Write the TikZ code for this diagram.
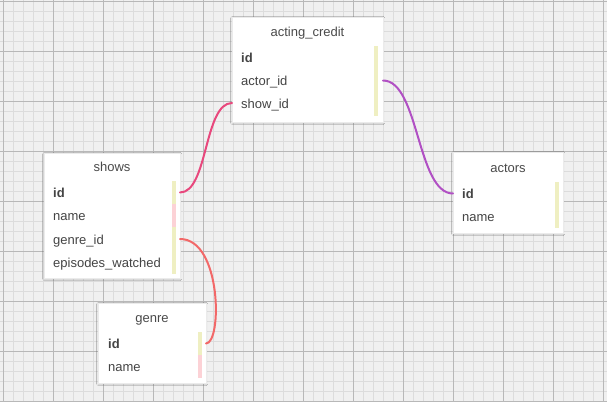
\documentclass[tikz,border=0pt]{standalone}
\usepackage{fontspec}
\setmainfont{Liberation Sans}
\usetikzlibrary{shadows.blur}
\definecolor{bg}{HTML}{F0F0F0}
\definecolor{minorgrid}{HTML}{DCDCDC}
\definecolor{majorgrid}{HTML}{B8B8B8}
\definecolor{txt}{HTML}{444444}
\definecolor{ttl}{HTML}{4A4A4A}
\definecolor{baryellow}{HTML}{EFEFC2}
\definecolor{barpink}{HTML}{FCD2D6}
\definecolor{linkpink}{HTML}{E8487D}
\definecolor{linkpurple}{HTML}{B150C4}
\definecolor{linkred}{HTML}{F26868}
\tikzset{
  tbl/.style={draw=black!8, line width=0.5pt, fill=white, anchor=north west, inner sep=0pt,
    blur shadow={shadow xshift=0pt, shadow yshift=-0.8pt, shadow blur radius=1.6pt, shadow blur steps=5, shadow opacity=14}},
  ttlnode/.style={text=ttl, font=\fontsize{13}{15}\selectfont, inner sep=0pt, text height=9.5pt, text depth=2.5pt},
  rownode/.style={text=txt, font=\fontsize{13}{15}\selectfont, anchor=west, inner sep=0pt, text height=9.5pt, text depth=2.5pt},
  keynode/.style={rownode, font=\fontsize{13}{15}\selectfont\bfseries},
  ybar/.style={fill=baryellow, draw=none},
  pbar/.style={fill=barpink, draw=none},
  link/.style={line width=2pt, line cap=round}
}
\begin{document}
\begin{tikzpicture}[x=1pt,y=-1pt]
\useasboundingbox (0,0) rectangle (607,402);
\fill[bg] (0,0) rectangle (607,402);
% grid
\foreach \i in {0,...,60} {
  \draw[minorgrid, line width=1pt] ({3+10*\i},0) -- ({3+10*\i},402);
}
\foreach \j in {0,...,40} {
  \draw[minorgrid, line width=1pt] (0,{1+10*\j}) -- (607,{1+10*\j});
}
\foreach \i in {0,...,12} {
  \draw[majorgrid, line width=1pt] ({3+50*\i},0) -- ({3+50*\i},402);
}
\foreach \j in {0,...,8} {
  \draw[majorgrid, line width=1pt] (0,{1+50*\j}) -- (607,{1+50*\j});
}

% acting_credit
\node[tbl, minimum width=151pt, minimum height=105pt] (ac) at (232,17) {};
\node[ttlnode] (acT) at (307.5,33) {acting\_credit};
\node[keynode] (acId) at (241,58.5) {id};
\node[rownode] (acActor) at (241,81.5) {actor\_id};
\node[rownode] (acShow) at (241,104.5) {show\_id};
\fill[ybar] (374,46) rectangle (378,116);
\coordinate (acActorR) at (383,80.5);
\coordinate (acShowL) at (232,103);

% shows
\node[tbl, minimum width=136pt, minimum height=125pt] (shows) at (44,153) {};
\node[ttlnode] (showsT) at (112,168) {shows};
\node[keynode] (showsId) at (53,193.5) {id};
\node[rownode] (showsName) at (53,217) {name};
\node[rownode] (showsGenre) at (53,240.5) {genre\_id};
\node[rownode] (showsEp) at (53,264) {episodes\_watched};
\fill[ybar] (172,181) rectangle (176,204);
\fill[pbar] (172,204) rectangle (176,227);
\fill[ybar] (172,227) rectangle (176,274);
\coordinate (showsIdR) at (180,192.5);
\coordinate (showsGenreR) at (180,239);

% actors
\node[tbl, minimum width=110pt, minimum height=81pt] (actors) at (453,152) {};
\node[ttlnode] (actorsT) at (508,169) {actors};
\node[keynode] (actorsId) at (462,194.5) {id};
\node[rownode] (actorsName) at (462,217.5) {name};
\fill[ybar] (555,182) rectangle (559,228);
\coordinate (actorsIdL) at (453,193.5);

% genre
\node[tbl, minimum width=108pt, minimum height=80pt] (genre) at (98,303) {};
\node[ttlnode] (genreT) at (152,319) {genre};
\node[keynode] (genreId) at (108,344.5) {id};
\node[rownode] (genreName) at (108,368) {name};
\fill[ybar] (198,332) rectangle (202,355);
\fill[pbar] (198,355) rectangle (202,378);
\coordinate (genreIdR) at (206,343.5);

% links
\draw[link, linkpink] (showsIdR) .. controls +(28,0) and +(-28,0) .. (acShowL);
\draw[link, linkpurple] (acActorR) .. controls +(36,0) and +(-36,0) .. (actorsIdL);
\draw[link, linkred] (showsGenreR) .. controls (222,239) and (222,343.5) .. (genreIdR);
\end{tikzpicture}
\end{document}
